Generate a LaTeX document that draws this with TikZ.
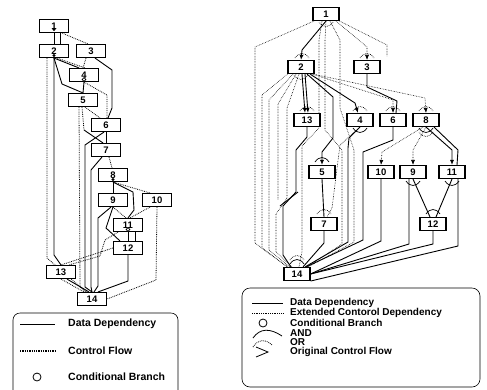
\documentclass[tikz,border=0pt]{standalone}
\usepackage{fontspec}
\setmainfont{Liberation Sans}
\usetikzlibrary{arrows.meta}
\pgfdeclarelayer{back}
\pgfdeclarelayer{bg}
\pgfsetlayers{back,bg,main}
\begin{document}
\begin{tikzpicture}[x=1pt,y=-1pt,
  lbox/.style={draw,line width=1.1pt,fill=white,minimum width=29pt,minimum height=13pt,inner sep=0pt,font=\fontsize{9.5}{9.5}\selectfont\bfseries},
  rbox/.style={draw,line width=1.1pt,fill=white,minimum width=26pt,minimum height=13pt,inner sep=0pt,font=\fontsize{9.5}{9.5}\selectfont\bfseries},
  dep/.style={line width=0.9pt},
  cf/.style={densely dotted,line width=0.8pt},
  ecd/.style={densely dotted,line width=0.6pt},
  arr/.style={-{Latex[length=5pt,width=4pt]}},
  lgl/.style={anchor=west,font=\fontsize{10.5}{10.5}\selectfont\bfseries,inner sep=0pt},
  lgr/.style={anchor=west,font=\fontsize{10}{10}\selectfont\bfseries,inner sep=0pt},
  andup/.pic={\draw[line width=0.7pt] (-7,3) .. controls (-3,-3) and (3,-3) .. (7,3);},
  orup/.pic={\draw[densely dotted,line width=0.7pt] (-7,3) .. controls (-3,-3) and (3,-3) .. (7,3);},
]
\useasboundingbox (0,0) rectangle (487,389);
\begin{pgfonlayer}{back}
\fill[white] (0,0) rectangle (487,389);
\end{pgfonlayer}

% ---------------- left diagram nodes
\node[lbox] (L1) at (54,26) {1};
\node[lbox] (L2) at (54,51) {2};
\node[lbox] (L3) at (91,51) {3};
\node[lbox] (L4) at (84,75) {4};
\node[lbox] (L5) at (83,100) {5};
\node[lbox] (L6) at (106,125) {6};
\node[lbox] (L7) at (106,150) {7};
\node[lbox] (L8) at (113,175) {8};
\node[lbox] (L9) at (113,200) {9};
\node[lbox] (L10) at (157,200) {10};
\node[lbox] (L11) at (128,225) {11};
\node[lbox] (L12) at (128,248) {12};
\node[lbox] (L13) at (61,272) {13};
\node[lbox] (L14) at (92,299) {14};

\begin{pgfonlayer}{bg}
\draw[dep] (L1.south) -- (L2.north);
\draw[dep] ([xshift=6pt]L1.south) -- ([xshift=6pt]L2.north);
\draw[dep] (L2.south) -- (54,255) -- (L13.north);
\draw[dep] (L2.south) -- ([xshift=-5pt]L4.north);
\draw[dep] (L2.south) -- (62,84) -- (L5.north);
\draw[dep] ([xshift=4pt]L3.south) -- (112,70) -- (112,108) -- ([xshift=2pt]L6.north);
\draw[dep] (L4.south) -- (L5.north);
\draw[dep] (L6.south) -- (L7.north);
\draw[dep] ([xshift=-2pt]L6.south) -- (85,145) -- (85,287) -- (L14.north);
\draw[cf] ([xshift=-1pt]L5.south) -- (84,130);
\draw[dep] (84,130) -- ([xshift=-3pt]L7.north);
\draw[dep] ([xshift=-4pt]L7.south) -- (91,170) -- (91,287) -- (L14.north);
\draw[dep] (L8.south) -- (L9.north);
\draw[dep] (L8.south) -- (133,192) -- (134,210) -- (L11.north);
\draw[dep] (L9.south) -- (106,228) -- ([xshift=-8pt]L12.north);
\draw[dep] ([xshift=-2pt]L9.south) -- (98,218) -- (98,286) -- ([xshift=2pt]L14.north);
\draw[dep] (L11.south) -- (L12.north);
\draw[dep] ([xshift=7pt]L11.south) -- ([xshift=7pt]L12.north);
\draw[dep] (L12.south) -- (128,281) -- ([xshift=6pt]L14.north);
\draw[dep] ([xshift=6pt]L13.south) -- ([xshift=-3pt]L14.north);
% control flow
\draw[cf] ([xshift=8pt]L1.south) -- ([xshift=-3pt]L3.north);
\draw[cf] ([xshift=-7pt]L2.south) -- (47,68) -- (47,258) -- ([xshift=-6pt]L14.north);
\draw[cf] ([xshift=3pt]L2.south) -- ([xshift=1pt]L4.north);
\draw[cf] ([xshift=-5pt]L3.south) -- ([xshift=-1pt]L4.north);
\draw[cf] (L4.south) -- (107,95) -- ([xshift=1pt]L6.north);
\draw[cf] ([xshift=2pt]L5.south) -- ([xshift=-6pt]L6.north);
\draw[cf] ([xshift=-4pt]L5.south) -- (80,287) -- ([xshift=-4pt]L14.north);
\draw[cf] ([xshift=3pt]L7.south) -- ([xshift=-1pt]L8.north);
\draw[cf] (L8.south) -- ([xshift=-7pt]L10.north);
\draw[cf] (L9.south) -- ([xshift=-2pt]L11.north);
\draw[cf] ([xshift=-7pt]L10.south) -- ([xshift=2pt]L11.north);
\draw[cf] (L10.south) -- (156,280) -- (L14.east);
\draw[cf] ([xshift=-10pt]L11.south) -- (105,240) -- (100,256) -- ([xshift=8pt]L13.north);
\draw[cf] (L12.west) -- (L13.north);
\draw[cf] (L13.south) -- ([xshift=-8pt]L14.north);
\end{pgfonlayer}
\fill (54,29.5) circle (1.6);
\fill (54,55.5) circle (1.6);
\fill (113,179.5) circle (1.6);
\draw[line width=0.7pt,fill=white] (84,79.5) circle (1.8);
\draw[line width=0.7pt,fill=white] (128,229.5) circle (1.8);

% ---------------- right diagram nodes
\node[rbox] (R1) at (326,14) {1};
\node[rbox] (R2) at (301,67) {2};
\node[rbox] (R3) at (367,67) {3};
\node[rbox] (R13) at (307,120) {13};
\node[rbox] (R4) at (360,120) {4};
\node[rbox] (R6) at (393,120) {6};
\node[rbox] (R8) at (426,120) {8};
\node[rbox] (R5) at (322,172) {5};
\node[rbox] (R10) at (381,172) {10};
\node[rbox] (R9) at (413,172) {9};
\node[rbox] (R11) at (452,172) {11};
\node[rbox] (R7) at (324,224) {7};
\node[rbox] (R12) at (433,224) {12};
\node[rbox] (R14) at (297,274) {14};

\begin{pgfonlayer}{bg}
% data dependencies
\draw[dep,arr] (R1.south) -- (302,50) -- (R2.north);
\draw[dep,arr] ([xshift=1pt]R2.south) -- ([xshift=-2pt]R13.north);
\draw[dep,arr] ([xshift=4pt]R2.south) -- ([xshift=1pt]R13.north);
\draw[dep,arr] ([xshift=9pt]R2.south) -- (355,103) -- ([xshift=-2pt]R4.north);
\draw[dep,arr] ([xshift=6pt]R2.south) -- (333,97) -- (333,138) -- (322,152) -- (R5.north);
\draw[dep] (R3.south) -- (367,87) -- (397,101) -- ([xshift=3pt]R6.north);
\draw[dep] (R6.south) -- (393,140) -- (363,152) -- (363,240) -- ([xshift=9pt]R14.north);
\draw[dep] (R4.south) -- (349,138) -- (348,148) -- (348,242) -- ([xshift=8pt]R14.north);
\draw[dep] (R5.south) -- (R7.north);
\draw[dep] (R7.south) -- (324,243) -- ([xshift=6pt]R14.north);
\draw[dep] (R13.south) -- (307,137) -- (296,150) -- (296,192) -- (283,206) -- (283,255) -- ([xshift=-6pt]R14.north);
\draw[dep] (280,206) -- (298,192);
\draw[dep,arr] (R8.south) -- (452,150) -- (R11.north);
\draw[dep] ([xshift=8pt]R8.south) -- (458,150) -- ([xshift=5pt]R11.north);
\draw[dep] (R9.south) -- ([xshift=-3pt]R12.north);
\draw[dep] (R11.south) -- ([xshift=3pt]R12.north);
\draw[dep] ([xshift=-4pt]R9.south) -- (409,244) -- (R14.east);
\draw[dep] (R10.south) -- (381,241) -- (R14.east);
\draw[dep] ([xshift=6pt]R11.south) -- (458,246) -- (R14.south east);
\draw[dep] (R12.south) -- (433,244) -- (R14.east);
% extended control dependencies
\draw[ecd,arr] ([xshift=10pt]R1.south) -- (367,47) -- (R3.north);
\draw[ecd] (R1.south east) -- (387,45) -- (387,56);
\draw[ecd,arr] (R8.south) -- (413,150) -- (R9.north);
\draw[ecd,arr] ([xshift=-3pt]R8.south) -- (382,152) -- (R10.north);
\draw[ecd,arr] ([xshift=11pt]R2.south) -- (393,100) -- (R6.north);
\draw[ecd,arr] ([xshift=12pt]R2.south) -- (425,98) -- (R8.north);
\draw[ecd] (R4.south) -- (340,145) -- (332,208) -- ([xshift=3pt]R7.north);
\draw[ecd] ([xshift=-12pt]R1.south) -- (255,47) -- (255,243) -- ([xshift=-10pt]R14.north);
\draw[ecd] ([xshift=-4pt]R1.south) -- (319,40) -- (319,128) -- (302,146) -- (302,252) -- ([xshift=2pt]R14.north);
\draw[ecd] (R1.south) -- (325,40) -- (325,130) -- (342,150) -- (342,244) -- ([xshift=10pt]R14.north);
\draw[ecd] ([xshift=4pt]R1.south) -- (340,40) -- (340,108) -- (354,150) -- (354,242) -- ([xshift=11pt]R14.north);
\draw[ecd] (R2.south west) -- (262,95) -- (262,248) -- ([xshift=-9pt]R14.north);
\draw[ecd] ([xshift=-8pt]R2.south) -- (269,100) -- (269,250) -- ([xshift=-7pt]R14.north);
\draw[ecd] ([xshift=-2pt]R2.south) -- (287,108) -- (287,198) -- (276,214) -- (276,252) -- ([xshift=-5pt]R14.north);
\draw[ecd] ([xshift=-5pt]R2.south) -- (278,104) -- (278,200);
\end{pgfonlayer}
% AND / OR marks
\pic at (302,55) {orup};
\pic at (307,108) {orup};
\pic at (360,108) {orup};
\pic at (393,108) {orup};
\pic at (426,108) {orup};
\pic at (367,55) {orup};
\pic at (322,159) {andup};
\pic at (324,211) {orup};
\pic at (433,211) {andup};
\pic at (297,261) {andup};
\pic at (297,257) {orup};
\pic[rotate=180] at (326,25) {orup};
\pic[rotate=180] at (301,78) {orup};
\pic[rotate=180] at (360,131) {andup};
\pic[rotate=180] at (426,131) {andup};
\pic[rotate=180] at (426,135) {orup};
\pic[rotate=180] at (413,184) {andup};
\pic[rotate=180] at (452,184) {andup};

% ---------------- left legend
\draw[line width=0.6pt,rounded corners=7pt] (178,395) -- (178,313) -- (13,313) -- (13,395);
\draw[dep] (20,324) -- (55,324);
\node[lgl] (tl1) at (68,324) {Data Dependency};
\draw[cf,line width=1.3pt] (20,351) -- (55,351);
\node[lgl] (tl2) at (68,351) {Control Flow};
\draw[line width=0.8pt] (37,377) circle (4);
\node[lgl] (tl3) at (68,377) {Conditional Branch};

% ---------------- right legend
\draw[line width=0.6pt,rounded corners=8pt] (242,288) rectangle (480,387);
\draw[dep] (252,303) -- (283,303);
\node[lgr] (tr1) at (290,303) {Data Dependency};
\draw[ecd,line width=0.8pt] (252,313) -- (283,313);
\node[lgr] (tr2) at (290,313) {Extended Contorol Dependency};
\draw[line width=0.8pt] (263,323) circle (4);
\node[lgr] (tr3) at (290,323) {Conditional Branch};
\draw[line width=0.8pt] (253,338) .. controls (260,328) and (270,328) .. (282,336);
\node[lgr] (tr4) at (290,333) {AND};
\draw[densely dotted,line width=0.8pt] (253,347) .. controls (258,339) and (266,339) .. (272,345);
\node[lgr] (tr5) at (290,342) {OR};
\draw[line width=0.8pt] (256,347) -- (268,352) -- (256,357);
\node[lgr] (tr6) at (290,352) {Original Control Flow};
\end{tikzpicture}
\end{document}
